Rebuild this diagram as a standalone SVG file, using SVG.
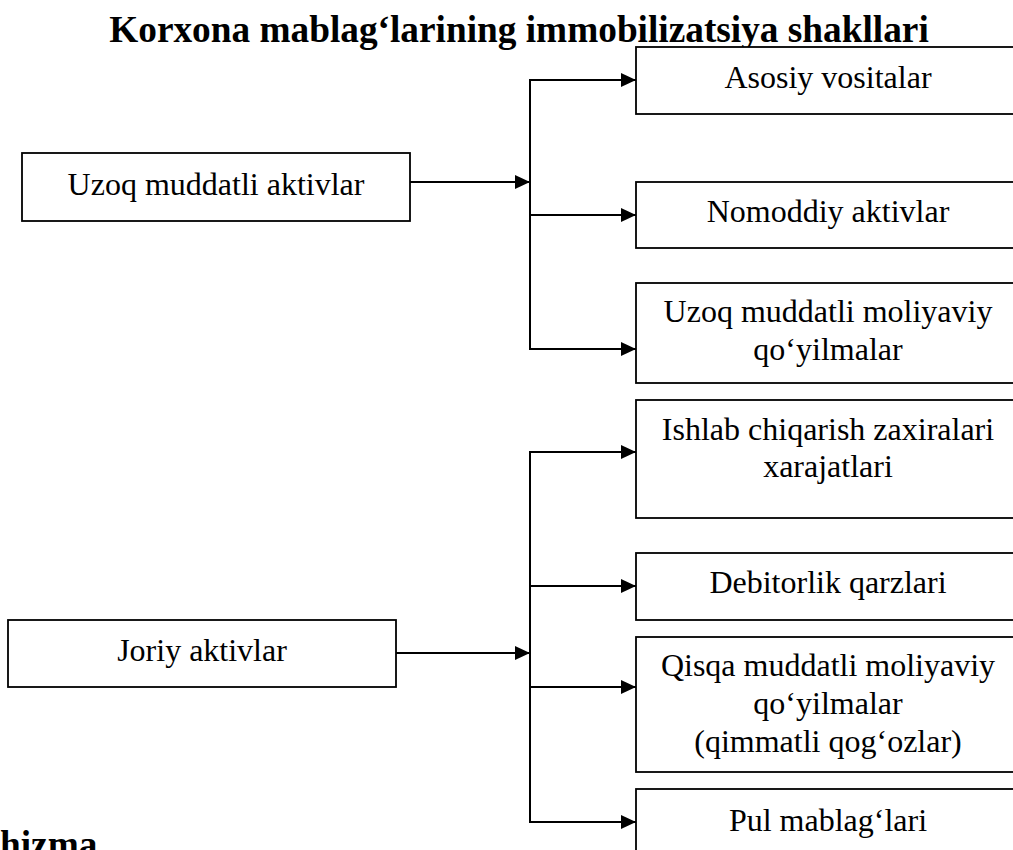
<svg xmlns="http://www.w3.org/2000/svg" width="1013" height="850" viewBox="0 0 1013 850">
  <style>
    .box { fill: #ffffff; stroke: #000000; stroke-width: 1.8; }
    .lbl { font-family: "Liberation Serif", "Times New Roman", serif; font-size: 32px; fill: #000000; text-anchor: middle; }
    .ttl { font-family: "Liberation Serif", "Times New Roman", serif; font-size: 37.3px; font-weight: bold; fill: #000000; }
    .con { fill: none; stroke: #000000; stroke-width: 2; }
  </style>
  <defs>
    <marker id="arr" markerUnits="userSpaceOnUse" markerWidth="16" markerHeight="15" refX="15" refY="7" orient="auto">
      <path d="M0,0 L15,7 L0,14 Z" fill="#000000"/>
    </marker>
  </defs>
  <rect width="1013" height="850" fill="#ffffff"/>

  <text class="ttl" x="519" y="42" text-anchor="middle">Korxona mablag‘larining immobilizatsiya shakllari</text>

  <g id="connectors">
    <line class="con" x1="410" y1="182" x2="530" y2="182" marker-end="url(#arr)"/>
    <line class="con" x1="530" y1="79" x2="530" y2="350"/>
    <line class="con" x1="529" y1="80" x2="636" y2="80" marker-end="url(#arr)"/>
    <line class="con" x1="529" y1="215" x2="636" y2="215" marker-end="url(#arr)"/>
    <line class="con" x1="529" y1="349" x2="636" y2="349" marker-end="url(#arr)"/>

    <line class="con" x1="396" y1="653" x2="530" y2="653" marker-end="url(#arr)"/>
    <line class="con" x1="530" y1="451" x2="530" y2="823"/>
    <line class="con" x1="529" y1="452" x2="636" y2="452" marker-end="url(#arr)"/>
    <line class="con" x1="529" y1="586" x2="636" y2="586" marker-end="url(#arr)"/>
    <line class="con" x1="529" y1="687" x2="636" y2="687" marker-end="url(#arr)"/>
    <line class="con" x1="529" y1="822" x2="636" y2="822" marker-end="url(#arr)"/>
  </g>

  <g id="node-uzoq">
    <rect class="box" x="22" y="153" width="388" height="68"/>
    <text class="lbl" x="216" y="195">Uzoq muddatli aktivlar</text>
  </g>
  <g id="node-joriy">
    <rect class="box" x="8" y="620" width="388" height="67"/>
    <text class="lbl" x="202" y="661">Joriy aktivlar</text>
  </g>

  <g id="node-asosiy">
    <rect class="box" x="636" y="47" width="400" height="67"/>
    <text class="lbl" x="828" y="88">Asosiy vositalar</text>
  </g>
  <g id="node-nomoddiy">
    <rect class="box" x="636" y="182" width="400" height="66"/>
    <text class="lbl" x="828" y="222">Nomoddiy aktivlar</text>
  </g>
  <g id="node-uzoq-moliyaviy">
    <rect class="box" x="636" y="283" width="400" height="100"/>
    <text class="lbl" x="828" y="322">Uzoq muddatli moliyaviy</text>
    <text class="lbl" x="828" y="360">qo‘yilmalar</text>
  </g>
  <g id="node-ishlab">
    <rect class="box" x="636" y="400" width="400" height="118"/>
    <text class="lbl" x="828" y="440">Ishlab chiqarish zaxiralari</text>
    <text class="lbl" x="828" y="477">xarajatlari</text>
  </g>
  <g id="node-debitorlik">
    <rect class="box" x="636" y="553" width="400" height="67"/>
    <text class="lbl" x="828" y="593">Debitorlik qarzlari</text>
  </g>
  <g id="node-qisqa">
    <rect class="box" x="636" y="637" width="400" height="135"/>
    <text class="lbl" x="828" y="676">Qisqa muddatli moliyaviy</text>
    <text class="lbl" x="828" y="714">qo‘yilmalar</text>
    <text class="lbl" x="828" y="752">(qimmatli qog‘ozlar)</text>
  </g>
  <g id="node-pul">
    <rect class="box" x="636" y="789" width="400" height="100"/>
    <text class="lbl" x="828" y="831">Pul mablag‘lari</text>
  </g>

  <text class="ttl" x="0" y="857">hizma</text>
</svg>
